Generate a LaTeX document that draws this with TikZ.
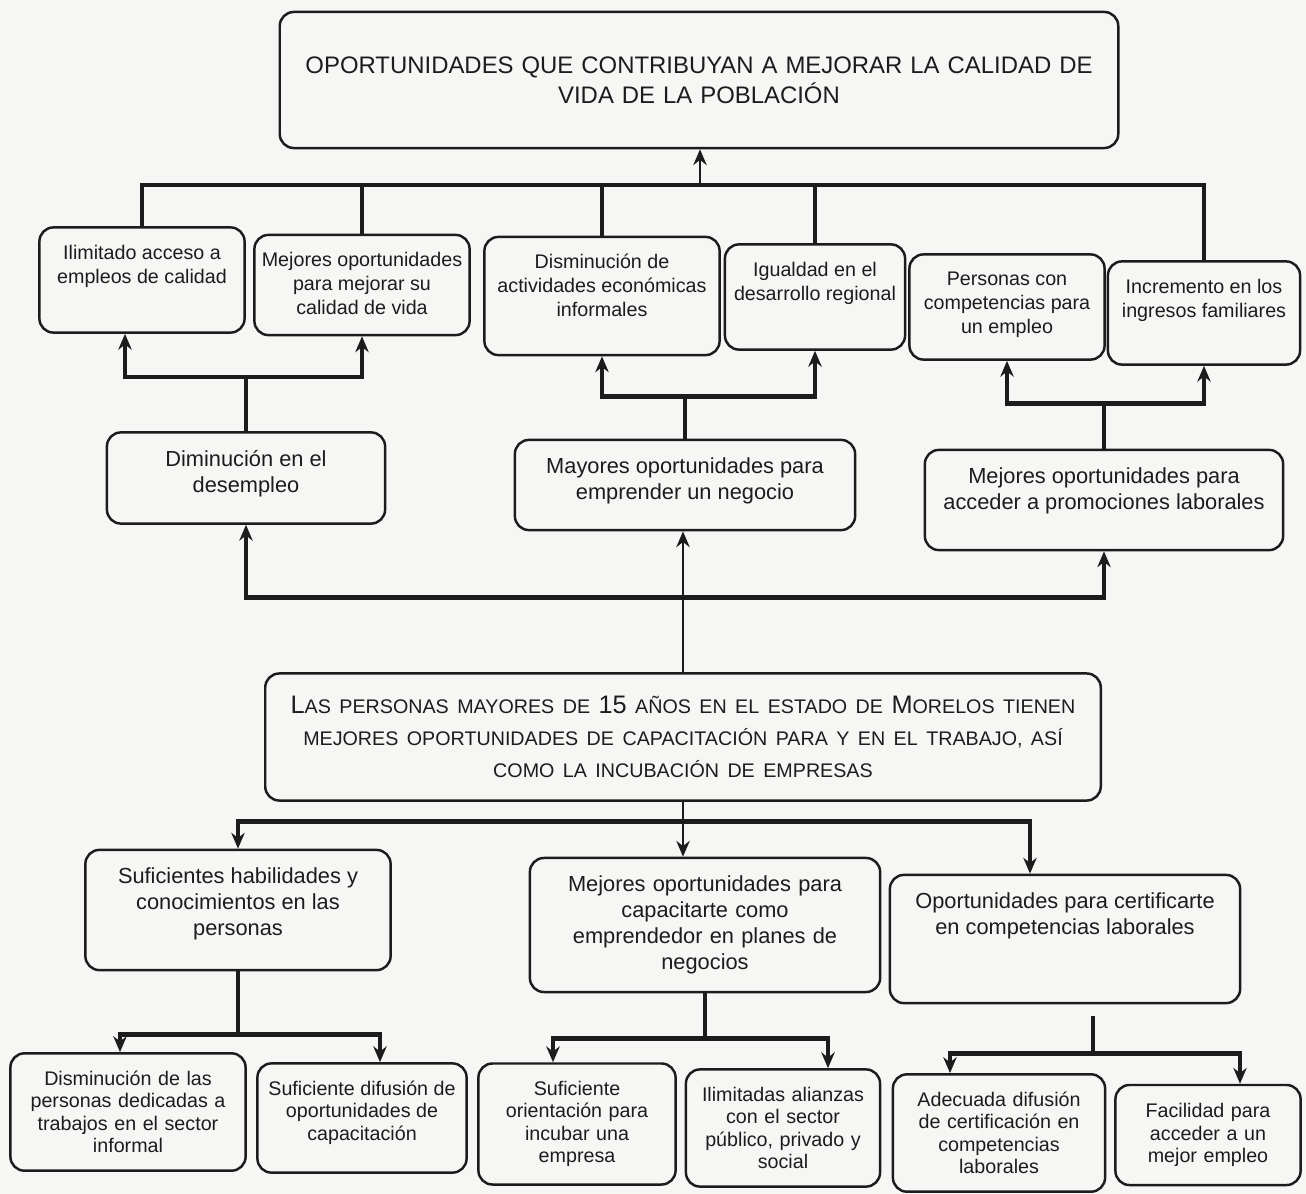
\documentclass[tikz,border=0pt]{standalone}
\usepackage{fontspec}
\setmainfont{Liberation Sans}
\usetikzlibrary{arrows.meta}

\definecolor{fondo}{RGB}{246,246,244}
\definecolor{trazo}{RGB}{28,28,28}

% texto pegado arriba dentro de la caja
\newcommand{\arriba}[3]{\parbox[c][#2][t]{#1}{\centering #3\par}}
% versalitas hechas a mano
\newcommand{\pc}[1]{{\fontsize{5.6}{9}\selectfont #1}}

\begin{document}
\begin{tikzpicture}[x=0.01cm, y=-0.01cm,
  caja/.style={draw=trazo, line width=0.7pt, rounded corners=4pt, align=center,
    inner xsep=2pt, inner ysep=5pt, text=trazo},
  grande/.style={font=\fontsize{6.8}{8.6}\selectfont},
  media/.style={font=\fontsize{6.2}{7.4}\selectfont},
  chica/.style={font=\fontsize{5.6}{6.8}\selectfont},
  baja/.style={font=\fontsize{5.6}{6.4}\selectfont},
  linea/.style={draw=trazo, line width=1.3pt},
  flecha/.style={draw=trazo, line width=1.3pt, -{Stealth[length=4.5pt,width=3.8pt]}},
  fina/.style={draw=trazo, line width=0.7pt, -{Stealth[length=4.5pt,width=3.8pt]}}]

\fill[fondo] (0,0) rectangle (1306,1194);
\useasboundingbox (0,0) rectangle (1306,1194);

% fin
\node[caja, grande, text width=8.24cm, minimum height=1.36cm] (titulo) at (699,80)
  {OPORTUNIDADES QUE CONTRIBUYAN A MEJORAR LA CALIDAD DE\\ VIDA DE LA POBLACIÓN};

% efectos
\node[caja, chica] (acceso) at (142,280) {\arriba{1.91cm}{0.70cm}{Ilimitado acceso a\\ empleos de calidad}};
\node[caja, chica] (mejorvida) at (362,285) {\arriba{2.01cm}{0.65cm}{Mejores oportunidades\\ para mejorar su\\ calidad de vida}};
\node[caja, chica] (informales) at (602,296) {\arriba{2.21cm}{0.83cm}{Disminución de\\ actividades económicas\\ informales}};
\node[caja, chica] (regional) at (815,297) {\arriba{1.66cm}{0.70cm}{Igualdad en el\\ desarrollo regional}};
\node[caja, chica] (competencias) at (1007,307) {\arriba{1.81cm}{0.70cm}{Personas con\\ competencias para\\ un empleo}};
\node[caja, chica] (ingresos) at (1204,313) {\arriba{1.78cm}{0.68cm}{Incremento en los\\ ingresos familiares}};

\node[caja, media] (desempleo) at (246,478) {\arriba{2.64cm}{0.56cm}{Diminución en el\\ desempleo}};
\node[caja, media] (negocio) at (685,485) {\arriba{3.26cm}{0.55cm}{Mayores oportunidades para\\ emprender un negocio}};
\node[caja, media] (promociones) at (1104,500) {\arriba{3.44cm}{0.65cm}{Mejores oportunidades para\\ acceder a promociones laborales}};

% objetivo
\node[caja, font=\fontsize{7.2}{9}\selectfont, text width=8.21cm, minimum height=1.27cm] (personas) at (683,737)
  {L\pc{AS PERSONAS MAYORES DE} 15 \pc{AÑOS EN EL ESTADO DE} M\pc{ORELOS TIENEN}\\
   \pc{MEJORES OPORTUNIDADES DE CAPACITACIÓN PARA Y EN EL TRABAJO, ASÍ}\\
   \pc{COMO LA INCUBACIÓN DE EMPRESAS}};

% medios
\node[caja, media] (habilidades) at (238,910) {\arriba{2.91cm}{0.85cm}{Suficientes habilidades y\\ conocimientos en las\\ personas}};
\node[caja, media, text width=3.36cm, minimum height=1.34cm] (capacitarte) at (705,925)
  {Mejores oportunidades para\\ capacitarte como\\ emprendedor en planes de\\ negocios};
\node[caja, media] (certificarte) at (1065,939) {\arriba{3.36cm}{0.93cm}{Oportunidades para certificarte\\ en competencias laborales}};

\node[caja, baja, text width=2.21cm, minimum height=1.07cm] (informal) at (128,1112)
  {Disminución de las\\ personas dedicadas a\\ trabajos en el sector\\ informal};
\node[caja, baja] (difusion) at (362,1118) {\arriba{1.95cm}{0.74cm}{Suficiente difusión de\\ oportunidades de\\ capacitación}};
\node[caja, baja, text width=1.83cm, minimum height=1.12cm] (orientacion) at (577,1124)
  {Suficiente\\ orientación para\\ incubar una\\ empresa};
\node[caja, baja, text width=1.80cm, minimum height=1.09cm] (alianzas) at (783,1128)
  {Ilimitadas alianzas\\ con el sector\\ público, privado y\\ social};
\node[caja, baja, text width=1.98cm, minimum height=1.10cm] (adecuada) at (999,1133)
  {Adecuada difusión\\ de certificación en\\ competencias\\ laborales};
\node[caja, baja, text width=1.71cm, minimum height=1.00cm] (facilidad) at (1208,1135)
  {Facilidad para\\ acceder a un\\ mejor empleo};

% conectores de arriba
\coordinate (bus1) at (700,185);
\draw[fina] (bus1) -- (bus1 |- titulo.south);
\draw[linea] (acceso.north) |- (bus1) -| (ingresos.north);
\draw[linea] (mejorvida.north) -- (mejorvida.north |- bus1);
\draw[linea] (informales.north) -- (informales.north |- bus1);
\draw[linea] (regional.north) -- (regional.north |- bus1);

\draw[flecha] (desempleo.north) -- ++(0,-54) -| ([shift={(-17,0)}]acceso.south);
\draw[flecha] (desempleo.north) ++(0,-54) -| (mejorvida.south);
\draw[flecha] (negocio.north) -- ++(0,-42) -| (informales.south);
\draw[flecha] (negocio.north) ++(0,-42) -| (regional.south);
\draw[flecha] (promociones.north) -- ++(0,-45) -| (competencias.south);
\draw[flecha] (promociones.north) ++(0,-45) -| (ingresos.south);

\draw[fina] (personas.north) -- (personas.north |- negocio.south);
\draw[flecha] (personas.north) ++(0,-75) -| (desempleo.south);
\draw[flecha] (personas.north) ++(0,-75) -| (promociones.south);

% conectores de abajo
\draw[fina] (personas.south) -- (personas.south |- capacitarte.north);
\draw[flecha] (personas.south) ++(0,20) -| (habilidades.north);
\draw[flecha] (personas.south) ++(0,20) -| ([shift={(-35,0)}]certificarte.north);

\draw[flecha] (habilidades.south) -- ++(0,63) -| ([shift={(-8,0)}]informal.north);
\draw[flecha] (habilidades.south) ++(0,63) -| ([shift={(18,0)}]difusion.north);
\draw[flecha] (capacitarte.south) -- ++(0,45) -| ([shift={(-24,0)}]orientacion.north);
\draw[flecha] (capacitarte.south) ++(0,45) -| ([shift={(45,0)}]alianzas.north);
\draw[flecha] ([shift={(28,12)}]certificarte.south) -- ++(0,37) -| ([shift={(-49,0)}]adecuada.north);
\draw[flecha] ([shift={(28,12)}]certificarte.south) ++(0,37) -| ([shift={(32,0)}]facilidad.north);
\end{tikzpicture}
\end{document}
